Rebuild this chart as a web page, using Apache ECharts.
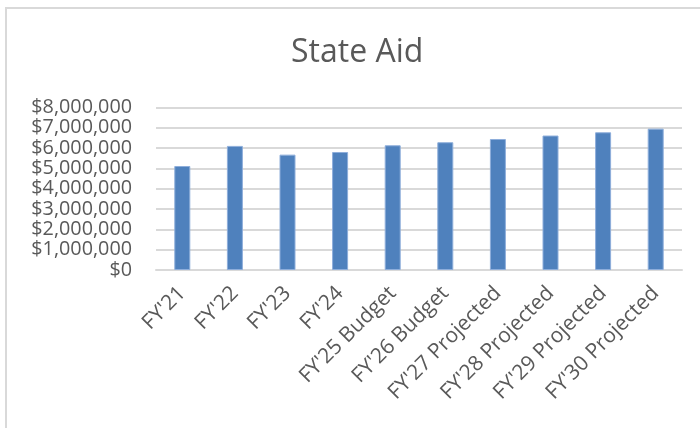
<!DOCTYPE html>
<html>
<head>
<meta charset="utf-8">
<title>State Aid</title>
<script src="https://cdn.jsdelivr.net/npm/echarts@6/dist/echarts.min.js"></script>
<style>
  html, body { margin: 0; padding: 0; background: #fff; }
  #chart { width: 700px; height: 428px; }
</style>
</head>
<body>
<div id="chart"></div>
<script>
// Fiscal years shown on the category axis
const categories = [
  "FY'21", "FY'22", "FY'23", "FY'24", "FY'25 Budget", "FY'26 Budget",
  "FY'27 Projected", "FY'28 Projected", "FY'29 Projected", "FY'30 Projected"
];

// State aid amounts in dollars
const stateAid = [
  5120000, 6110000, 5680000, 5810000, 6140000,
  6290000, 6450000, 6620000, 6780000, 6960000
];

// Value axis range and step
const yMin = 0;
const yMax = 8000000;
const yStep = 1000000;

const FONT = "'Open Sans', 'Noto Sans', sans-serif";
const GREY_TEXT = '#595959';
const GREY_LINE = '#d9d9d9';

function dollars(v) {
  return '$' + Math.round(v).toString().replace(/\B(?=(\d{3})+(?!\d))/g, ',');
}

const chart = echarts.init(document.getElementById('chart'), null, { renderer: 'canvas' });

chart.setOption({
  animation: false,
  backgroundColor: '#ffffff',
  title: {
    text: 'State Aid',
    left: 291,
    top: 37,
    padding: 0,
    textStyle: {
      fontFamily: FONT,
      fontSize: 32,
      fontWeight: 'normal',
      color: GREY_TEXT
    }
  },
  graphic: [
    {
      type: 'rect',
      shape: { x: 6, y: 8, width: 720, height: 440 },
      style: { fill: null, stroke: GREY_LINE, lineWidth: 2 },
      silent: true,
      z: -1
    }
  ],
  grid: {
    left: 156,
    right: 18,
    top: 107.5,
    bottom: 158,
    containLabel: false
  },
  xAxis: {
    type: 'category',
    data: categories,
    axisLine: { show: true, lineStyle: { color: GREY_LINE, width: 2 } },
    axisTick: { show: false },
    axisLabel: {
      interval: 0,
      rotate: 45,
      margin: 20,
      hideOverlap: false,
      fontFamily: FONT,
      fontSize: 21,
      color: GREY_TEXT
    }
  },
  yAxis: {
    type: 'value',
    min: yMin,
    max: yMax,
    interval: yStep,
    axisLine: { show: false },
    axisTick: { show: false },
    splitLine: { show: true, lineStyle: { color: GREY_LINE, width: 2 } },
    axisLabel: {
      margin: 24,
      showMinLabel: true,
      showMaxLabel: true,
      fontFamily: FONT,
      fontSize: 19.8,
      color: GREY_TEXT,
      formatter: dollars
    }
  },
  series: [
    {
      type: 'bar',
      data: stateAid,
      barWidth: 16,
      itemStyle: {
        color: '#4f81bd',
        borderColor: '#8eaedb',
        borderWidth: 1
      }
    }
  ]
});
</script>
</body>
</html>
